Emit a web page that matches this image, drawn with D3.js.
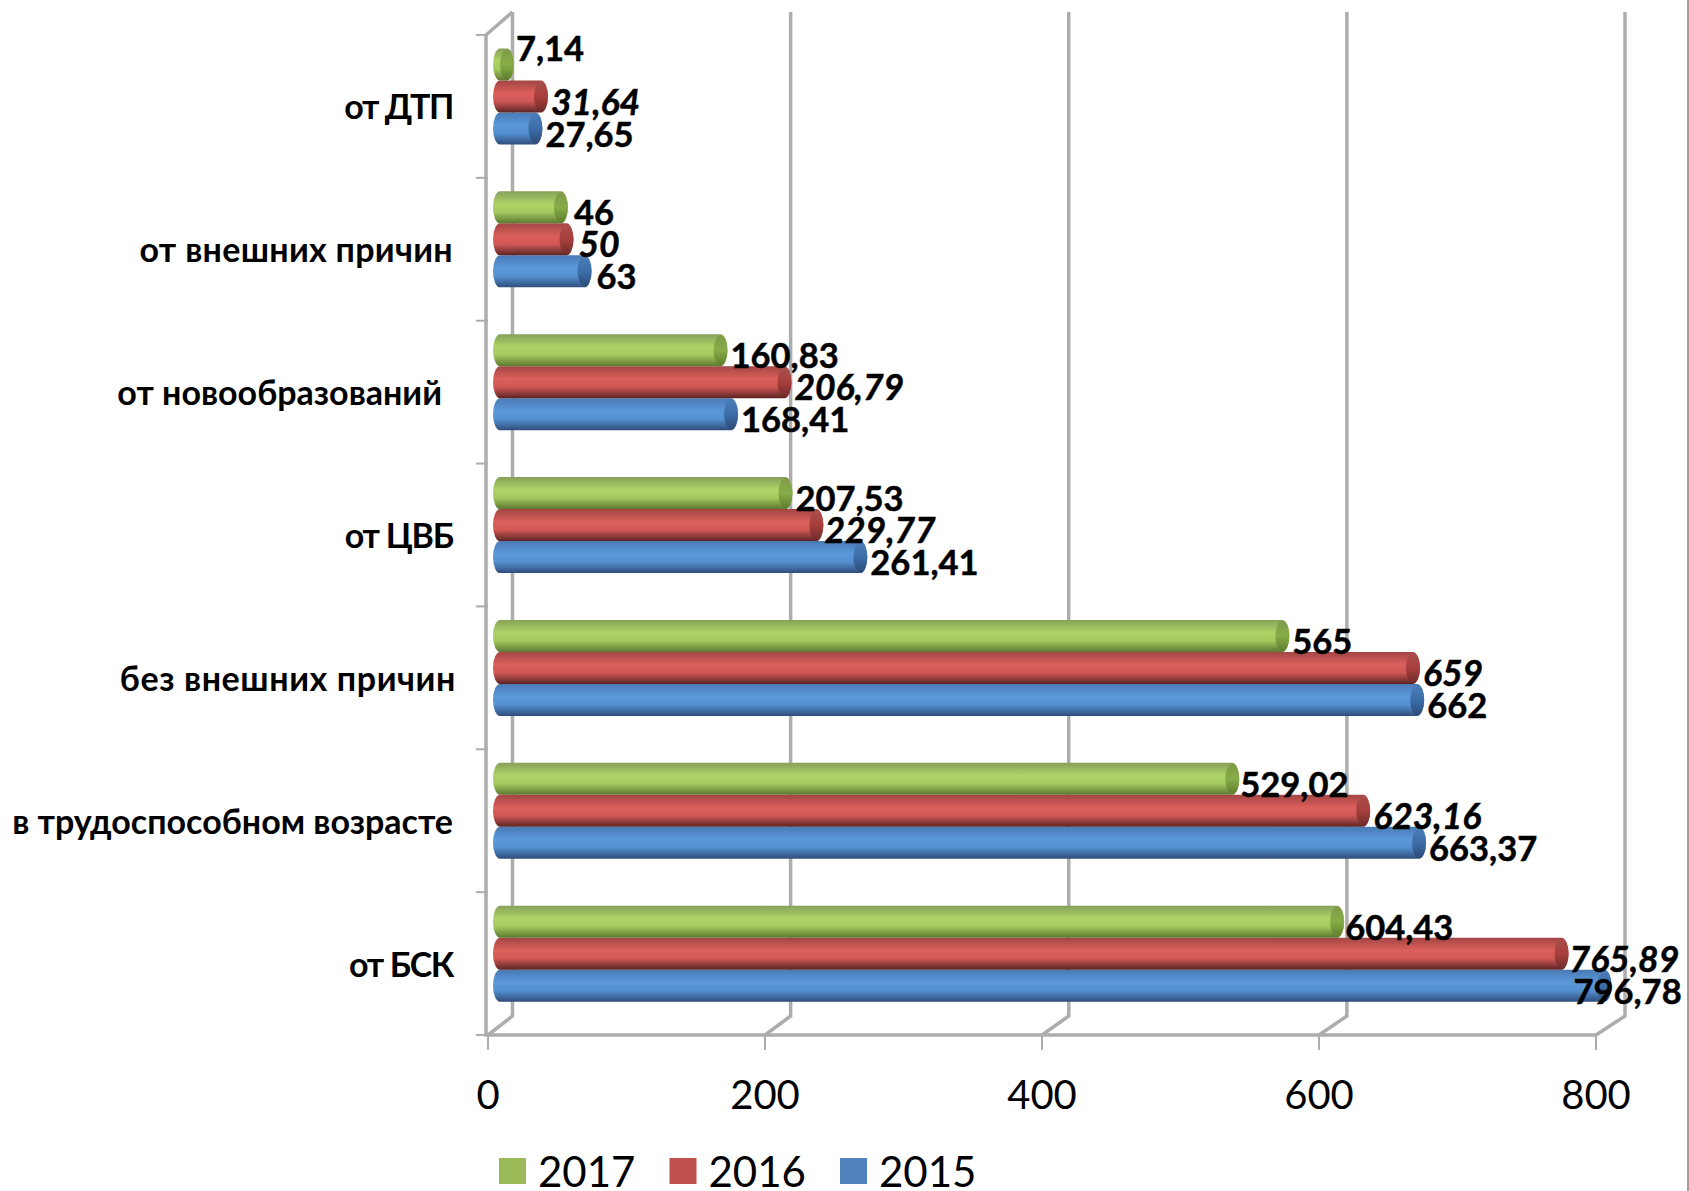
<!DOCTYPE html>
<html>
<head>
<meta charset="utf-8">
<script src="https://cdnjs.cloudflare.com/ajax/libs/d3/7.8.5/d3.min.js"></script>
<style>
  html, body { margin: 0; background: #fff; }
  text { font-family: Lato, "Open Sans", sans-serif; fill: #000; }
</style>
</head>
<body>
<div id="chart"></div>
<script>
// Chart data, categories from top to bottom
const categories = ["от ДТП", "от внешних причин", "от новообразований", "от ЦВБ",
    "без внешних причин", "в трудоспособном возрасте", "от БСК"];
const years = ["2017", "2016", "2015"];
const values2017 = [7.14, 46, 160.83, 207.53, 565, 529.02, 604.43];
const values2016 = [31.64, 50, 206.79, 229.77, 659, 623.16, 765.89];
const values2015 = [27.65, 63, 168.41, 261.41, 662, 663.37, 796.78];
const xTicks = [0, 200, 400, 600, 800];

const seriesValues = { "2017": values2017, "2016": values2016, "2015": values2015 };

const width = 1689;
const height = 1191;

const svg = d3.select("#chart").append("svg")
    .attr("width", width)
    .attr("height", height)
    .style("display", "block");

// Front edge of the floor, back wall and the plane the bars stand in
const xFront = d3.scaleLinear().domain([0, 800]).range([488, 1596]);
const xBack = d3.scaleLinear().domain([0, 800]).range([512.5, 1625]);
const xBar = d3.scaleLinear().domain([0, 800]).range([504, 1616]);

const yFront = d3.scaleBand().domain(categories).range([35, 1035]);
const yBar = d3.scaleBand().domain(categories).range([25.5, 1025.5]);
const yInner = d3.scaleBand().domain(years).range([23, 119]);

const frontFloor = 1035;
const backFloor = 1016;
const backTop = 12;
const axisColor = "#adadad";

// Cylinder colours: edge, highlight, shadow
const colors = {
    "2017": { swatch: "#9bbb59", stops: ["#87a05a", "#aed467", "#a4c95f", "#5d7830"], cap: ["#7f9a45", "#86ad47", "#5f7f2c"] },
    "2016": { swatch: "#c0504d", stops: ["#a24644", "#dc5f5b", "#cf5855", "#5c2425"], cap: ["#a8504c", "#a83f3c", "#702c2b"] },
    "2015": { swatch: "#4f81bd", stops: ["#4a7ab5", "#5b98da", "#5490d0", "#2f4d7b"], cap: ["#4a7db8", "#3d6ea9", "#2b4b78"] }
};

const defs = svg.append("defs");
years.forEach(y => {
    const grad = defs.append("linearGradient")
        .attr("id", "grad" + y)
        .attr("x1", 0).attr("y1", 0).attr("x2", 0).attr("y2", 1);
    [0, 0.4, 0.65, 1].forEach((o, i) => {
        grad.append("stop").attr("offset", o).attr("stop-color", colors[y].stops[i]);
    });
    const capGrad = defs.append("linearGradient")
        .attr("id", "cap" + y)
        .attr("x1", 0).attr("y1", 0).attr("x2", 0).attr("y2", 1);
    [0, 0.5, 1].forEach((o, i) => {
        capGrad.append("stop").attr("offset", o).attr("stop-color", colors[y].cap[i]);
    });
});

// The reference is a soft upscaled picture, so soften the bars a little
defs.append("filter")
    .attr("id", "soft")
    .append("feGaussianBlur")
    .attr("stdDeviation", 0.7);

// Back wall gridlines with the floor diagonals
const grid = svg.append("g")
    .attr("fill", "none")
    .attr("stroke", axisColor)
    .attr("stroke-width", 3.5);

grid.selectAll(".wall")
    .data(xTicks)
    .enter()
    .append("path")
    .attr("class", "wall")
    .attr("d", d => `M${xBack(d)},${backTop}V${backFloor}L${xFront(d)},${frontFloor}`);

// Front axes
grid.append("path")
    .attr("d", `M${xBack(0)},${backTop}L${xFront(0) - 2},35V${frontFloor}H${xFront(800)}`);

// Tick marks
const ticks = svg.append("g").attr("stroke", axisColor).attr("stroke-width", 2);
ticks.selectAll(".xtick")
    .data(xTicks)
    .enter()
    .append("line")
    .attr("x1", d => xFront(d))
    .attr("x2", d => xFront(d))
    .attr("y1", frontFloor)
    .attr("y2", frontFloor + 15);

ticks.selectAll(".ytick")
    .data(categories.map(c => yFront(c)).concat(frontFloor))
    .enter()
    .append("line")
    .attr("x1", 476)
    .attr("x2", 488)
    .attr("y1", d => d)
    .attr("y2", d => d);

// Bars, bottom series first
const barRx = 7;
const barLeft = 493;
const bars = svg.append("g").attr("filter", "url(#soft)");

years.slice().reverse().forEach(y => {
    const series = bars.selectAll(".bar" + y)
        .data(categories.map((c, i) => ({ category: c, value: seriesValues[y][i] })))
        .enter()
        .append("g")
        .attr("class", "bar" + y);

    series.append("rect")
        .attr("x", barLeft)
        .attr("y", d => yBar(d.category) + yInner(y))
        .attr("width", d => xBar(d.value) - barLeft)
        .attr("height", yInner.bandwidth())
        .attr("rx", barRx)
        .attr("ry", yInner.bandwidth() / 2)
        .attr("fill", `url(#grad${y})`);

    series.append("ellipse")
        .attr("cx", d => xBar(d.value) - barRx)
        .attr("cy", d => yBar(d.category) + yInner(y) + yInner.bandwidth() / 2)
        .attr("rx", barRx)
        .attr("ry", yInner.bandwidth() / 2 - 1)
        .attr("fill", `url(#cap${y})`);
});

// Data labels; some of them were moved by hand in the original
const labelNudge = {
    "2017|от ДТП": [-1, -22], "2015|от БСК": [-41, 0],
    "2017|от внешних причин": [3, 0], "2015|от внешних причин": [2, 0],
    "2017|от БСК": [-2, 0], "2017|в трудоспособном возрасте": [-2, 0],
    "2016|от внешних причин": [2, 0], "2016|от ЦВБ": [-2, 0], "2016|от БСК": [-2, 0]
};
const labelText = v => String(v).replace(".", ",");
const nudge = (y, d) => labelNudge[y + "|" + d.category] || [0, 0];

years.forEach(y => {
    svg.append("g").selectAll("text")
        .data(categories.map((c, i) => ({ category: c, value: seriesValues[y][i] })))
        .enter()
        .append("text")
        .attr("x", d => xBar(d.value) + 3 + nudge(y, d)[0])
        .attr("y", d => yBar(d.category) + yInner(y) + yInner.bandwidth() + 2 + nudge(y, d)[1])
        .attr("font-size", y === "2016" ? 35.5 : 34.5)
        .attr("font-weight", 700)
        .attr("font-style", y === "2016" ? "italic" : "normal")
        .attr("stroke", "#000")
        .attr("stroke-width", 0.5)
        .text(d => labelText(d.value));
});

// Category labels, spacing tuned per label because the original font differs
const labelRight = { "от новообразований": 442, "без внешних причин": 456 };
const labelSpacing = {
    "от ДТП": -1.4, "от ЦВБ": -1.2, "от БСК": -1.4,
    "от внешних причин": 0.3, "без внешних причин": 0.6
};
svg.append("g").selectAll("text")
    .data(categories)
    .enter()
    .append("text")
    .attr("x", d => labelRight[d] || 453)
    .attr("y", d => yFront(d) + yFront.bandwidth() / 2 + 13)
    .attr("text-anchor", "end")
    .attr("font-size", 34)
    .attr("font-weight", 700)
    .attr("letter-spacing", d => labelSpacing[d] || 0)
    .text(d => d);

// Value axis labels
svg.append("g").selectAll("text")
    .data(xTicks)
    .enter()
    .append("text")
    .attr("x", d => xFront(d))
    .attr("y", 1109)
    .attr("text-anchor", "middle")
    .attr("font-size", 40)
    .text(d => d);

// Legend
const legendX = d3.scalePoint().domain(years).range([499, 840]);
const legend = svg.selectAll(".legend")
    .data(years)
    .enter()
    .append("g")
    .attr("class", "legend")
    .attr("transform", d => `translate(${legendX(d)},1158)`);

legend.append("rect")
    .attr("width", 27)
    .attr("height", 26)
    .attr("fill", d => colors[d].swatch);

legend.append("text")
    .attr("x", 39)
    .attr("y", 29)
    .attr("font-size", 42)
    .text(d => d);

// Right edge of the picture frame
svg.append("line")
    .attr("x1", width - 1)
    .attr("x2", width - 1)
    .attr("y1", 0)
    .attr("y2", height)
    .attr("stroke", "#a0a0a0")
    .attr("stroke-width", 2);
</script>
</body>
</html>
